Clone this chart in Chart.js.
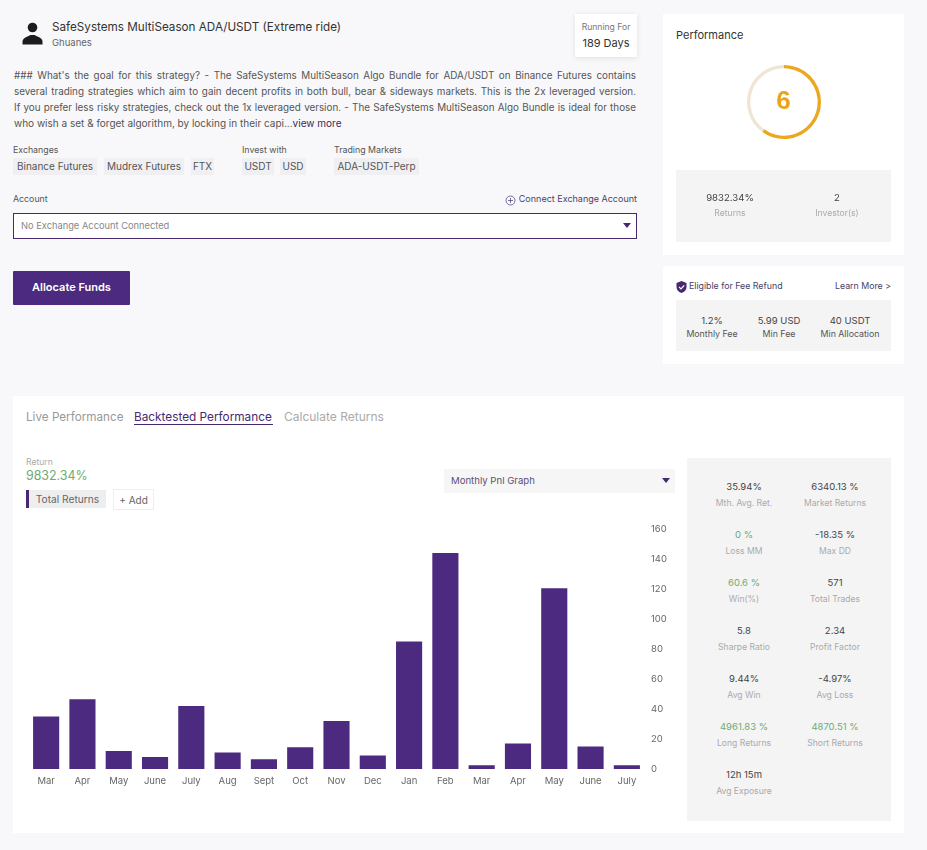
<!DOCTYPE html>
<html>
<head>
<meta charset="utf-8">
<title>SafeSystems MultiSeason ADA/USDT</title>
<script src="https://cdn.jsdelivr.net/npm/chart.js@4"></script>
<style>
  html, body { margin: 0; padding: 0; }
  body { width: 927px; height: 850px; background: #f8f8fa; position: relative; overflow: hidden;
    font-family: Inter, sans-serif; font-size: 9.5px; color: #444; }
  .abs { position: absolute; white-space: nowrap; }
  .card { position: absolute; background: #fff; }
  .grey { position: absolute; background: #f4f4f5; }
  .tag { position: absolute; top: 158px; height: 17px; line-height: 17px; background: #f0f0f2; text-align: center; font-size: 10px; color: #555; }
  .line { position: absolute; left: 14px; width: 622px; height: 16px; line-height: 16px; font-size: 9.85px; color: #555;
    text-align: justify; text-align-last: justify; white-space: nowrap; }
  .cen { position: absolute; text-align: center; white-space: nowrap; transform: translateX(-50%); }
  canvas { position: absolute; }
</style>
</head>
<body>
<div class="card" style="left:663px;top:14px;width:241px;height:241px"></div>
<div class="card" style="left:663px;top:266px;width:241px;height:98px"></div>
<div class="card" style="left:13px;top:396px;width:891px;height:437px"></div>
<div class="card" style="left:575px;top:14px;width:62px;height:43px;box-shadow:0 1px 5px rgba(0,0,0,.1)"></div>

<svg class="abs" style="left:21px;top:21px" width="24" height="24" viewBox="0 0 24 24">
  <circle cx="11.500" cy="6.500" r="4.800" fill="#1c1c1c"/>
  <path d="M1.500 23.500 v-3 q0-3 5-5 l3-1.500 h4 l3 1.500 q5 2 5 5 v3z" fill="#1c1c1c"/>
</svg>
<div class="abs" style="left:52px;top:19px;font-size:11.7px;line-height:16px;color:#333">SafeSystems MultiSeason ADA/USDT (Extreme ride)</div>
<div class="abs" style="left:52px;top:36px;font-size:9.5px;line-height:14px;color:#666">Ghuanes</div>
<div class="cen" style="left:606px;top:21px;font-size:8.6px;line-height:12px;color:#777">Running For</div>
<div class="cen" style="left:606px;top:35px;font-size:11px;line-height:16px;color:#333">189 Days</div>

<div class="line" style="top:67px">### What's the goal for this strategy? - The SafeSystems MultiSeason Algo Bundle for ADA/USDT on Binance Futures contains</div>
<div class="line" style="top:83px">several trading strategies which aim to gain decent profits in both bull, bear &amp; sideways markets. This is the 2x leveraged version.</div>
<div class="line" style="top:99px">If you prefer less risky strategies, check out the 1x leveraged version. - The SafeSystems MultiSeason Algo Bundle is ideal for those</div>
<div class="line" style="top:115px;width:auto;text-align-last:left;font-size:10px">who wish a set &amp; forget algorithm, by locking in their capi...<span style="color:#3b2a5c">view more</span></div>

<div class="abs" style="left:13px;top:144px;font-size:8.8px;line-height:12px;color:#555">Exchanges</div>
<div class="abs" style="left:242px;top:144px;font-size:8.8px;line-height:12px;color:#555">Invest with</div>
<div class="abs" style="left:334px;top:144px;font-size:8.8px;line-height:12px;color:#555">Trading Markets</div>
<div class="tag" style="left:13px;width:84px">Binance Futures</div>
<div class="tag" style="left:104px;width:80px">Mudrex Futures</div>
<div class="tag" style="left:191px;width:23px">FTX</div>
<div class="tag" style="left:242px;width:32px">USDT</div>
<div class="tag" style="left:280px;width:26px">USD</div>
<div class="tag" style="left:334px;width:85px">ADA-USDT-Perp</div>

<div class="abs" style="left:13px;top:193px;font-size:8.8px;line-height:12px;color:#555">Account</div>
<svg class="abs" style="left:505px;top:195px" width="11" height="11" viewBox="0 0 11 11"><circle cx="5.500" cy="5.500" r="4.500" fill="none" stroke="#5b4a80" stroke-width=".8"/><path d="M5.500 3v5M3 5.500h5" stroke="#5b4a80" stroke-width=".8"/></svg>
<div class="abs" style="right:290px;top:193px;font-size:9px;line-height:12px;color:#4a3f66">Connect Exchange Account</div>
<div class="abs" style="left:13px;top:213px;width:622px;height:24px;background:#fff;border:1px solid #46296f"></div>
<div class="abs" style="left:21px;top:219px;font-size:9.3px;line-height:13px;color:#888">No Exchange Account Connected</div>
<svg class="abs" style="left:623px;top:222px" width="9" height="7"><path d="M0 1h8l-4 5z" fill="#46296f"/></svg>
<div class="abs" style="left:13px;top:271px;width:117px;height:34px;line-height:33px;background:#4b2a80;border-radius:1px;color:#fff;text-align:center;font-size:11px;font-weight:600">Allocate Funds</div>

<div class="abs" style="left:676px;top:27px;font-size:11px;line-height:16px;color:#333">Performance</div>
<canvas id="score-chart" style="left:743.500px;top:61.500px;width:80px;height:80px" width="80" height="80"></canvas>
<div class="cen" style="left:783.5px;top:85px;font-family:'Liberation Sans',sans-serif;font-size:26px;line-height:30px;font-weight:700;color:#eba31a">6</div>
<div class="grey" style="left:676px;top:170px;width:215px;height:72px"></div>
<div class="cen" style="left:730px;top:191px;font-size:9.6px;line-height:13px;color:#444">9832.34%</div>
<div class="cen" style="left:730px;top:207px;font-size:8.6px;line-height:13px;color:#aaa">Returns</div>
<div class="cen" style="left:837px;top:191px;font-size:9.6px;line-height:13px;color:#444">2</div>
<div class="cen" style="left:837px;top:207px;font-size:8.6px;line-height:13px;color:#aaa">Investor(s)</div>

<svg class="abs" style="left:676px;top:281px" width="11" height="12" viewBox="0 0 11 12"><path d="M5.500 0 L10.500 2 V6 Q10.500 10 5.500 12 Q.5 10 .5 6 V2z" fill="#46296f"/><path d="M3 5.800l2 2 3.200-3.400" fill="none" stroke="#fff" stroke-width="1.200"/></svg>
<div class="abs" style="left:689px;top:280px;font-size:8.8px;line-height:12px;color:#4a3f66">Eligible for Fee Refund</div>
<div class="abs" style="right:36px;top:280px;font-size:8.8px;line-height:12px;color:#4a3f66">Learn More &gt;</div>
<div class="grey" style="left:676px;top:300px;width:215px;height:51px"></div>
<div id="fees"></div>

<div class="abs" style="left:26px;top:409px;font-size:11.7px;line-height:16px;color:#999">Live Performance</div>
<div class="abs" style="left:134px;top:409px;font-size:11.8px;line-height:16px;color:#46296f">Backtested Performance</div>
<div class="abs" style="left:134px;top:424px;width:139px;height:1px;background:#46296f"></div>
<div class="abs" style="left:284px;top:409px;font-size:12px;line-height:16px;color:#aaa">Calculate Returns</div>

<div class="abs" style="left:26px;top:456px;font-size:8.6px;line-height:12px;color:#aaa">Return</div>
<div class="abs" style="left:26px;top:467px;font-size:12.4px;line-height:17px;color:#6cab74">9832.34%</div>
<div class="abs" style="left:26px;top:490px;width:77px;height:18px;line-height:19px;background:#eeeeef;border-left:3px solid #46296f;text-align:center;font-size:10.2px;color:#666">Total Returns</div>
<div class="abs" style="left:113px;top:489px;width:39px;height:19px;line-height:20px;background:#fff;border:1px solid #eee;text-align:center;font-size:10px;color:#666">+ Add</div>
<div class="abs" style="left:444px;top:469px;width:231px;height:24px;background:#f6f6f7"></div>
<div class="abs" style="left:451px;top:474px;font-size:9.6px;line-height:13px;color:#5b4f73">Monthly Pnl Graph</div>
<svg class="abs" style="left:662px;top:477px" width="9" height="7"><path d="M0 1h8l-4 5z" fill="#46296f"/></svg>

<canvas id="pnl-chart" style="left:20px;top:515px;width:660px;height:274px" width="660" height="274"></canvas>

<div class="grey" style="left:687px;top:458px;width:204px;height:363px"></div>
<div id="stats"></div>

<script>
  var months = ['Mar', 'Apr', 'May', 'June', 'July', 'Aug', 'Sept', 'Oct', 'Nov', 'Dec', 'Jan', 'Feb', 'Mar', 'Apr', 'May', 'June', 'July'];
  var monthlyPnl = [35, 46.5, 12, 8, 42, 11, 6.5, 14.5, 32, 9, 85, 144, 2.5, 17, 120.5, 15, 2.5];
  var yTicks = [0, 20, 40, 60, 80, 100, 120, 140, 160];
  var score = [6, 4];

  var statLabels = ['Mth. Avg. Ret.', 'Market Returns', 'Loss MM', 'Max DD', 'Win(%)', 'Total Trades', 'Sharpe Ratio', 'Profit Factor', 'Avg Win', 'Avg Loss', 'Long Returns', 'Short Returns', 'Avg Exposure'];
  var statValues = ['35.94%', '6340.13 %', '0 %', '-18.35 %', '60.6 %', '571', '5.8', '2.34', '9.44%', '-4.97%', '4961.83 %', '4870.51 %', '12h 15m'];
  var statGreen = [2, 4, 10, 11];

  var feeLabels = ['Monthly Fee', 'Min Fee', 'Min Allocation'];
  var feeValues = ['1.2%', '5.99 USD', '40 USDT'];
  var feeCenters = [712, 779, 850];

  function addText(parent, text, x, y, size, color) {
    var el = document.createElement('div');
    el.className = 'cen';
    el.style.cssText = 'left:' + x + 'px;top:' + y + 'px;font-size:' + size + 'px;line-height:13px;color:' + color;
    el.textContent = text;
    parent.appendChild(el);
  }

  var statsEl = document.getElementById('stats');
  statLabels.forEach(function (label, i) {
    var x = i % 2 === 0 ? 744 : 835;
    var y = 480 + Math.floor(i / 2) * 48;
    var isGreen = statGreen.indexOf(i) >= 0;
    addText(statsEl, statValues[i], x, y, 9.5, isGreen ? '#6cab74' : '#444');
    addText(statsEl, label, x, y + 17, 8.6, '#aaa');
  });

  var feesEl = document.getElementById('fees');
  feeLabels.forEach(function (label, i) {
    addText(feesEl, feeValues[i], feeCenters[i], 314, 9.5, '#444');
    addText(feesEl, label, feeCenters[i], 326.5, 8.8, '#555');
  });

  Chart.defaults.font.family = 'Inter, sans-serif';

  new Chart(document.getElementById('score-chart').getContext('2d'), {
    type: 'doughnut',
    data: {
      datasets: [{
        data: score,
        backgroundColor: ['#eba71f', '#f0e5d5'],
        borderWidth: 0,
      }],
    },
    options: {
      responsive: false,
      animation: false,
      cutout: '91%',
      layout: { padding: 3 },
      plugins: { legend: { display: false }, tooltip: { enabled: false } },
    },
  });

  new Chart(document.getElementById('pnl-chart').getContext('2d'), {
    type: 'bar',
    data: {
      labels: months,
      datasets: [{
        data: monthlyPnl,
        backgroundColor: '#4b2a80',
        barPercentage: 0.72,
        categoryPercentage: 1,
      }],
    },
    options: {
      responsive: false,
      animation: false,
      layout: { padding: { left: 8, top: 14, right: 0, bottom: 0 } },
      plugins: { legend: { display: false }, tooltip: { enabled: false } },
      scales: {
        x: {
          afterFit: function (axis) { axis.height = 20; },
          grid: { display: false, drawTicks: false },
          border: { display: false },
          ticks: { color: '#666', font: { size: 9.5 }, autoSkip: false, maxRotation: 0, padding: 6 },
        },
        y: {
          position: 'right',
          min: 0,
          max: 160,
          afterBuildTicks: function (axis) {
            axis.ticks = yTicks.map(function (v) { return { value: v }; });
          },
          afterFit: function (axis) { axis.width = 35; },
          grid: { display: false, drawTicks: false },
          border: { display: false },
          ticks: { color: '#666', font: { size: 9.5 }, padding: 6 },
        },
      },
    },
  });
</script>
</body>
</html>
